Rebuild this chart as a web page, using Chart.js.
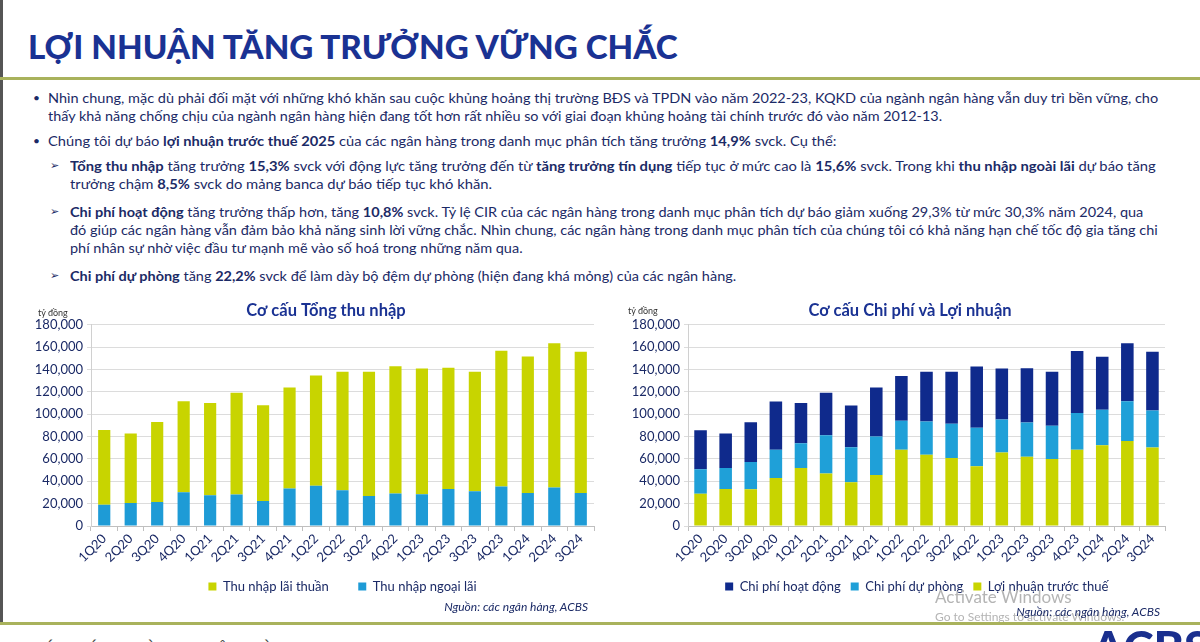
<!DOCTYPE html>
<html>
<head>
<meta charset="utf-8">
<script src="https://cdn.jsdelivr.net/npm/chart.js@4.4.1/dist/chart.umd.min.js"></script>
<style>
  html,body{margin:0;padding:0;background:#fff;}
  body{width:1200px;height:642px;overflow:hidden;position:relative;font-family:Lato,"Noto Sans",sans-serif;color:#1b2a66;}
  .abs{position:absolute;white-space:nowrap;}
  .line{position:absolute;white-space:nowrap;font-size:14px;line-height:18px;height:18px;transform-origin:0 50%;}
  .line b{font-weight:700;}
  .bul{position:absolute;font-size:12px;line-height:18px;}
  .arr{position:absolute;font-family:"DejaVu Sans";font-size:11px;line-height:18px;}
  canvas{position:absolute;}
</style>
</head>
<body>
<div class="abs" style="left:0;top:0;width:3px;height:625px;background:#555;"></div>
<div id="title" class="abs" style="left:28px;top:26px;font-size:33px;font-weight:900;color:#1a3293;line-height:40px;transform-origin:0 50%;">LỢI NHUẬN TĂNG TRƯỞNG VỮNG CHẮC</div>
<div class="abs" style="left:0;top:77px;width:1200px;height:3px;background:#a9b25c;"></div>

<div class="bul" style="left:33px;top:89px;">•</div>
<div class="line" style="left:48px;top:89px;" data-end="1158">Nhìn chung, mặc dù phải đối mặt với những khó khăn sau cuộc khủng hoảng thị trường BĐS và TPDN vào năm 2022-23, KQKD của ngành ngân hàng vẫn duy trì bền vững, cho</div>
<div class="line" style="left:48px;top:107px;" data-end="942">thấy khả năng chống chịu của ngành ngân hàng hiện đang tốt hơn rất nhiều so với giai đoạn khủng hoảng tài chính trước đó vào năm 2012-13.</div>

<div class="bul" style="left:33px;top:132px;">•</div>
<div class="line" style="left:48px;top:132px;" data-end="837">Chúng tôi dự báo <b>lợi nhuận trước thuế 2025</b> của các ngân hàng trong danh mục phân tích tăng trưởng <b>14,9%</b> svck. Cụ thể:</div>

<div class="arr" style="left:50px;top:157px;">➢</div>
<div class="line" style="left:70px;top:157px;" data-end="1156"><b>Tổng thu nhập</b> tăng trưởng <b>15,3%</b> svck với động lực tăng trưởng đến từ <b>tăng trưởng tín dụng</b> tiếp tục ở mức cao là <b>15,6%</b> svck. Trong khi <b>thu nhập ngoài lãi</b> dự báo tăng</div>
<div class="line" style="left:70px;top:175px;" data-same="1">trưởng chậm <b>8,5%</b> svck do mảng banca dự báo tiếp tục khó khăn.</div>

<div class="arr" style="left:50px;top:203px;">➢</div>
<div class="line" style="left:70px;top:203px;" data-end="1143"><b>Chi phí hoạt động</b> tăng trưởng thấp hơn, tăng <b>10,8%</b> svck. Tỷ lệ CIR của các ngân hàng trong danh mục phân tích dự báo giảm xuống 29,3% từ mức 30,3% năm 2024, qua</div>
<div class="line" style="left:70px;top:221px;" data-end="1158">đó giúp các ngân hàng vẫn đảm bảo khả năng sinh lời vững chắc. Nhìn chung, các ngân hàng trong danh mục phân tích của chúng tôi có khả năng hạn chế tốc độ gia tăng chi</div>
<div class="line" style="left:70px;top:239px;" data-same="1">phí nhân sự nhờ việc đầu tư mạnh mẽ vào số hoá trong những năm qua.</div>

<div class="arr" style="left:50px;top:267px;">➢</div>
<div class="line" style="left:70px;top:267px;" data-same="1"><b>Chi phí dự phòng</b> tăng <b>22,2%</b> svck để làm dày bộ đệm dự phòng (hiện đang khá mỏng) của các ngân hàng.</div>

<canvas id="c1" width="590" height="305" style="left:20px;top:298px;width:590px;height:305px;"></canvas>
<canvas id="c2" width="585" height="305" style="left:610px;top:298px;width:585px;height:305px;"></canvas>

<div class="abs" style="left:38px;top:307px;font-size:9px;color:#333;">tỷ đồng</div>
<div class="abs" style="left:628px;top:305px;font-size:9px;color:#333;">tỷ đồng</div>

<div class="abs" style="left:935px;top:586px;font-size:17px;color:#b4b4b4;">Activate Windows</div>
<div class="abs" style="left:935px;top:609px;font-size:12px;color:#b4b4b4;">Go to Settings to activate Windows.</div>

<div class="abs" style="right:612px;top:599px;font-size:12px;font-style:italic;color:#1b2a66;">Nguồn: các ngân hàng, ACBS</div>
<div class="abs" style="right:40px;top:604px;font-size:12px;font-style:italic;color:#1b2a66;">Nguồn: các ngân hàng, ACBS</div>

<div class="abs" style="left:0;top:622px;width:1200px;height:3px;background:#a9b25c;"></div>
<div class="abs" style="left:33px;top:639px;font-size:15px;color:#444;letter-spacing:2px;">BÁO CÁO NGÀNH NGÂN HÀNG</div>
<div class="abs" style="left:1092px;top:624px;font-size:46px;font-weight:900;color:#1a2f8e;line-height:46px;">ACBS</div>

<script>
// ---------- data ----------
const categories = ['1Q20','2Q20','3Q20','4Q20','1Q21','2Q21','3Q21','4Q21','1Q22','2Q22','3Q22','4Q22','1Q23','2Q23','3Q23','4Q23','1Q24','2Q24','3Q24'];

// Chart 1: Cơ cấu Tổng thu nhập (tỷ đồng)
const netInterestIncome = [66700, 62200, 71500, 81300, 82500, 91200, 85600, 90500, 98700, 106000, 111100, 114000, 112600, 108300, 106900, 121400, 122000, 129200, 126400];
const nonInterestIncome = [19100, 20600, 21500, 30200, 27500, 28100, 22400, 33500, 35900, 32000, 26900, 29000, 28400, 33200, 31100, 35300, 29600, 34400, 29600];

// Chart 2: Cơ cấu Chi phí và Lợi nhuận (tỷ đồng)
const operatingExpense = [34900, 30900, 35600, 43100, 35900, 38100, 37300, 44000, 40200, 44500, 46500, 54800, 45500, 48500, 48200, 55300, 47600, 52000, 52600];
const provisionExpense = [21900, 18900, 24400, 25200, 22100, 34100, 31300, 34300, 25900, 29800, 30700, 34500, 29500, 30700, 29800, 33000, 31600, 35400, 33100];
const profitBeforeTax  = [28900, 33000, 32800, 43000, 52000, 47000, 39200, 45700, 68200, 63700, 60800, 53400, 65800, 62000, 59900, 68200, 72300, 76100, 70200];

const yAxisMax = 180000;
const yAxisStep = 20000;

// ---------- text fitting ----------
function fitText(){
  const t = document.getElementById('title');
  t.style.transform = 'scaleX(' + (650 / t.scrollWidth) + ')';
  let last = 1;
  document.querySelectorAll('.line').forEach(el => {
    const left = parseFloat(el.style.left);
    if (el.dataset.end) {
      last = (parseFloat(el.dataset.end) - left) / el.scrollWidth;
    }
    el.style.transform = 'scaleX(' + last + ')';
  });
}

// ---------- charts ----------
const TXT = '#1b2a66';
Chart.defaults.font.family = 'Lato, "Noto Sans", sans-serif';
Chart.defaults.color = TXT;
const EN = '\u2002';

function makeChart(id, title, titleTrail, datasets, yWidth, padRight, trail, barPct){
  return new Chart(document.getElementById(id), {
    type: 'bar',
    data: { labels: categories, datasets: datasets.map(d => Object.assign({
      borderWidth: 0, barPercentage: barPct, categoryPercentage: 1.0
    }, d)) },
    options: {
      responsive: false, animation: false,
      layout: { padding: { top: 3, right: padRight, left: 0, bottom: 0 } },
      plugins: {
        title: { display: true, fullSize: false, text: title + EN.repeat(titleTrail), color: '#1a3293',
          font: { size: 16.5, weight: 'bold' }, padding: { top: 0, bottom: 4 } },
        legend: { position: 'bottom', reverse: true, fullSize: false,
          labels: { boxWidth: 8, boxHeight: 8, padding: 10, color: TXT, font: { size: 13 },
            generateLabels: chart => {
              const items = Chart.defaults.plugins.legend.labels.generateLabels(chart);
              items.forEach(it => { const n = trail[it.datasetIndex] || 0; it.text = it.text + EN.repeat(n); });
              return items;
            } } },
        tooltip: { enabled: false }
      },
      scales: {
        x: { stacked: true,
          grid: { display: true, drawOnChartArea: false, drawTicks: true, tickLength: 5, color: '#bfbfbf' },
          border: { color: '#bfbfbf' },
          ticks: { minRotation: 45, maxRotation: 45, color: TXT, font: { size: 13 }, padding: 0, autoSkip: false },
          afterFit: s => { s.height = 44; }
        },
        y: { stacked: true, min: 0, max: yAxisMax,
          ticks: { stepSize: yAxisStep, color: TXT, font: { size: 13 }, padding: 4,
            callback: v => v.toLocaleString('en-US') },
          grid: { color: '#dcdcdc', drawTicks: true, tickLength: 4 },
          border: { display: true, color: '#d0d0d0' },
          afterFit: s => { s.width = yWidth; }
        }
      }
    }
  });
}

function draw(){
  fitText();
  makeChart('c1', 'Cơ cấu Tổng thu nhập', 4, [
    { label: 'Thu nhập ngoại lãi', data: nonInterestIncome, backgroundColor: '#1e9bd6' },
    { label: 'Thu nhập lãi thuần', data: netInterestIncome, backgroundColor: '#c8d400' }
  ], 71, 16, {1: 3}, 0.46);
  makeChart('c2', 'Cơ cấu Chi phí và Lợi nhuận', 4, [
    { label: 'Lợi nhuận trước thuế', data: profitBeforeTax, backgroundColor: '#c8d400' },
    { label: 'Chi phí dự phòng', data: provisionExpense, backgroundColor: '#1fa0d8' },
    { label: 'Chi phí hoạt động', data: operatingExpense, backgroundColor: '#0f2a8c' }
  ], 78, 30, {0: 3}, 0.5);
}
if (document.fonts && document.fonts.ready) { document.fonts.ready.then(draw); } else { draw(); }
</script>
</body>
</html>
